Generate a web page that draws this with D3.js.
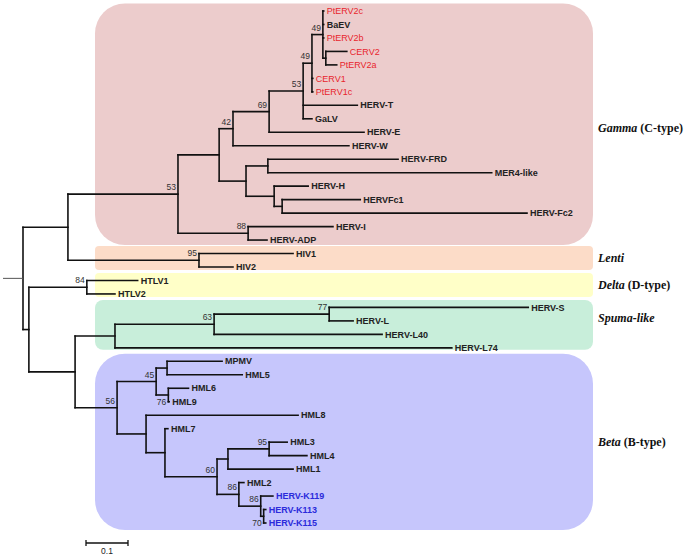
<!DOCTYPE html>
<html><head><meta charset="utf-8">
<script src="https://cdn.jsdelivr.net/npm/d3@7"></script>
<style>body{margin:0;background:#fff}</style>
</head><body>
<svg id="c" width="686" height="557"></svg>
<script>
// ---- Tree data (pre-order, parent table, branch lengths in substitutions/site) ----
const nodeIds = ["root","n68","n178","n219","n233","n269","n303","n312","n323",
 "PtERV2c","BaEV","PtERV2b","n326","CERV2","PtERV2a","CERV1","PtERV1c",
 "HERV-T","GaLV","HERV-E","HERV-W","n246","n268","HERV-FRD","MER4-like",
 "n274","HERV-H","n282","HERVFc1","HERV-Fc2","n248","HERV-I","HERV-ADP",
 "n199","HIV1","HIV2","n29","n87","HTLV1","HTLV2","n75","n115","n214","n329",
 "HERV-S","HERV-L","HERV-L40","HERV-L74","n117","n156","n167","MPMV","HML5",
 "n168","HML6","HML9","n146","HML8","n165","HML7","n217","n228","n269b",
 "HML3","HML4","HML1","n239","HML2","n261","HERV-K119","n264","HERV-K113","HERV-K115"];
const parentIds = ["","root","n68","n178","n219","n233","n269","n303","n312",
 "n323","n323","n323","n323","n326","n326","n312","n312",
 "n303","n303","n269","n233","n219","n246","n268","n268",
 "n246","n274","n274","n282","n282","n178","n248","n248",
 "n68","n199","n199","root","n29","n87","n87","n29","n75","n115","n214",
 "n329","n329","n214","n115","n75","n117","n156","n167","n167",
 "n156","n168","n168","n117","n146","n146","n165","n165","n217","n228",
 "n269b","n269b","n228","n217","n239","n239","n261","n261","n264","n264"];
const branchLengths = [0,0.107,0.262,0.098,0.033,0.086,0.081,0.021,0.026,
 0.002,0.002,0.002,0.007,0.050,0.026,0.002,0.002,
 0.129,0.021,0.226,0.276,0.064,0.052,0.310,0.533,
 0.067,0.081,0.019,0.186,0.583,0.167,0.202,0.045,
 0.312,0.224,0.081,0.014,0.138,0.121,0.067,0.110,0.095,0.236,0.274,
 0.474,0.057,0.400,0.802,0.100,0.093,0.026,0.131,0.179,
 0.029,0.048,0.002,0.069,0.362,0.045,0.007,0.124,0.026,0.098,
 0.043,0.090,0.155,0.052,0.012,0.052,0.029,0.007,0.005,0.005];

const bootstrapNodes  = ["n323","n312","n303","n269","n233","n178","n248","n199","n87","n329","n214","n117","n156","n168","n217","n269b","n239","n261","n264"];
const bootstrapValues = [49,49,53,69,42,53,88,95,84,77,63,56,45,76,60,95,86,86,70];
const bootstrapBelow  = ["n168","n264"];

const redTaxa  = ["PtERV2c","PtERV2b","CERV2","PtERV2a","CERV1","PtERV1c"];
const blueTaxa = ["HERV-K119","HERV-K113","HERV-K115"];

const cladeNames     = ["Gamma","Lenti","Delta","Spuma-like","Beta"];
const cladeSuffix    = [" (C-type)",""," (D-type)",""," (B-type)"];
const cladeFirstLeaf = ["PtERV2c","HIV1","HTLV1","HERV-S","MPMV"];
const cladeLastLeaf  = ["HERV-ADP","HIV2","HTLV2","HERV-L74","HERV-K115"];

const scaleBarValue = 0.1;

// ---- styles ----
const cladeColors = ["#ECCCCC","#FCDCC8","#FFFFC8","#C8EEDA","#C6C6FC"];
const cladeRadius = [30,4,4,8,30];
const cladeBottomPad = [5,3,3,2,7];
const cladeLabelShift = [4,0,0,-7,0];

const svg = d3.select("#c");
const table = nodeIds.map((id,i)=>({id, parent: parentIds[i] || null, len: branchLengths[i]}));
const root = d3.stratify().id(d=>d.id).parentId(d=>d.parent)(table);
root.each(n => { n.dist = (n.parent ? n.parent.dist : 0) + n.data.len; });
const leaves = root.leaves();
const x = d3.scaleLinear().domain([0,1]).range([23,443]);
const y = d3.scalePoint().domain(leaves.map(d=>d.id)).range([11,523]);
root.eachAfter(n => {
  n.py = n.children ? (n.children[0].py + n.children[n.children.length-1].py)/2 : y(n.id);
});

// clade boxes
const boxL = 95, boxR = 593;
cladeNames.forEach((name,i) => {
  const top = y(cladeFirstLeaf[i]) - 7.5;
  const bot = y(cladeLastLeaf[i]) + cladeBottomPad[i];
  svg.append("rect").attr("x",boxL).attr("y",top).attr("width",boxR-boxL).attr("height",bot-top)
    .attr("rx",cladeRadius[i]).attr("ry",cladeRadius[i]).attr("fill",cladeColors[i]);
  const t = svg.append("text").attr("x",598).attr("y",(top+bot)/2 + cladeLabelShift[i]).attr("dy","0.35em")
    .attr("font-family","'Liberation Serif','Times New Roman',serif").attr("font-size",12)
    .attr("font-weight","bold").attr("fill","#111");
  t.append("tspan").attr("font-style","italic").text(name);
  if (cladeSuffix[i]) t.append("tspan").text(cladeSuffix[i]);
});

// branches
const g = svg.append("g").attr("stroke","#111").attr("stroke-width",1.6).attr("fill","none").attr("stroke-linecap","square");
root.descendants().forEach(n => {
  if (n.parent) g.append("path").attr("d", `M${x(n.parent.dist)},${n.py}H${x(n.dist)}`);
  if (n.children) g.append("path").attr("d", `M${x(n.dist)},${n.children[0].py}V${n.children[n.children.length-1].py}`);
});
svg.append("line").attr("x1",x(0)-20).attr("x2",x(0)).attr("y1",root.py).attr("y2",root.py)
  .attr("stroke","#555").attr("stroke-width",1);

// leaf labels
svg.append("g").selectAll("text").data(leaves).join("text")
  .attr("x", d=>x(d.dist)+3).attr("y", d=>d.py).attr("dy","0.35em")
  .attr("font-family","'Liberation Sans',Arial,sans-serif").attr("font-size",9)
  .attr("font-weight", d=>redTaxa.includes(d.id) ? "normal" : "bold")
  .attr("fill", d=>redTaxa.includes(d.id) ? "#E8262C" : blueTaxa.includes(d.id) ? "#2B2BDB" : "#222")
  .text(d=>d.id);

// bootstrap values
const byId = new Map(root.descendants().map(n=>[n.id,n]));
svg.append("g").selectAll("text").data(bootstrapNodes).join("text")
  .attr("x", (d)=>x(byId.get(d).dist)-2)
  .attr("y", (d)=>byId.get(d).py + (bootstrapBelow.includes(d) ? 9.5 : -4))
  .attr("text-anchor","end").attr("font-family","'Liberation Sans',Arial,sans-serif")
  .attr("font-size",8.5).attr("fill","#333")
  .text((d,i)=>bootstrapValues[i]);

// scale bar
const sbx = 86, sby = 543, sbw = x(scaleBarValue) - x(0);
const sb = svg.append("g").attr("stroke","#111").attr("stroke-width",1.3);
sb.append("line").attr("x1",sbx).attr("x2",sbx+sbw).attr("y1",sby).attr("y2",sby);
sb.append("line").attr("x1",sbx).attr("x2",sbx).attr("y1",sby-3).attr("y2",sby+3);
sb.append("line").attr("x1",sbx+sbw).attr("x2",sbx+sbw).attr("y1",sby-3).attr("y2",sby+3);
svg.append("text").attr("x",sbx+sbw/2).attr("y",sby+11).attr("text-anchor","middle")
  .attr("font-family","'Liberation Sans',Arial,sans-serif").attr("font-size",8.5).attr("fill","#222")
  .text(scaleBarValue);
</script>
</body></html>
